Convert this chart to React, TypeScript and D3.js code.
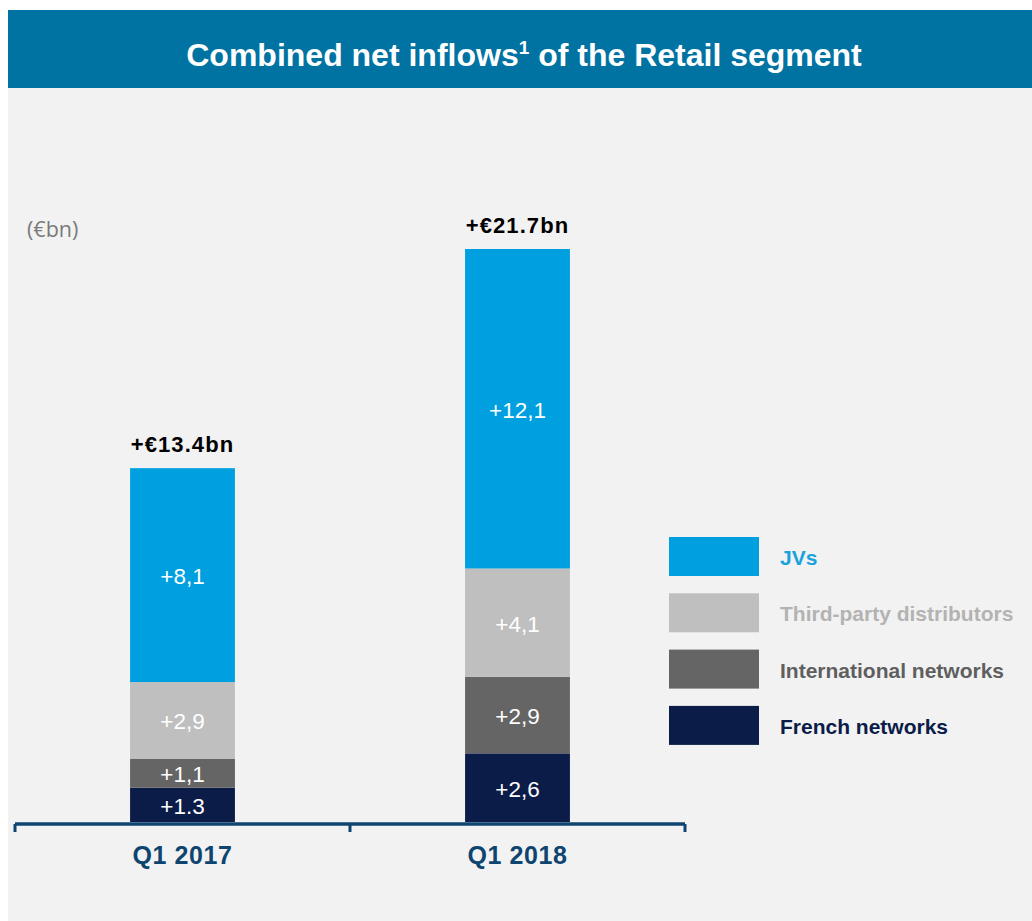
import React from 'react';
import * as d3 from 'd3';

const width = 1032;
const height = 921;

const periods = ['Q1 2017', 'Q1 2018'];
const seriesNames = ['French networks', 'International networks', 'Third-party distributors', 'JVs'];
const frenchNetworks = [1.3, 2.6];
const internationalNetworks = [1.1, 2.9];
const thirdParty = [2.9, 4.1];
const jvs = [8.1, 12.1];
const segmentLabels = [
  ['+1.3', '+2,6'],
  ['+1,1', '+2,9'],
  ['+2,9', '+4,1'],
  ['+8,1', '+12,1'],
];
const totalLabels = ['+€13.4bn', '+€21.7bn'];
const totals = [13.4, 21.7];

const colors = ['#0b1c48', '#656565', '#bfbfbf', '#00a0e0'];
const legendTextColors = ['#0b1c48', '#5f5f5f', '#b3b3b3', '#1aa2dc'];
const axisColor = '#0e4470';
const font = '"Liberation Sans", Arial, sans-serif';

const App = () => {
  const rows = periods.map((p, i) => ({
    period: p,
    'French networks': frenchNetworks[i],
    'International networks': internationalNetworks[i],
    'Third-party distributors': thirdParty[i],
    JVs: jvs[i],
  }));
  const stacked = d3.stack<any>().keys(seriesNames)(rows);

  const x = d3.scaleBand()
    .domain(periods)
    .range([15, 685])
    .paddingInner(0.687)
    .paddingOuter(0.3435);

  const y = d3.scaleLinear()
    .domain([0, 21.7])
    .range([822, 249]);

  const axisY = 824;
  const step = x.step();
  const boundaries = d3.range(periods.length + 1).map(i => 15 + i * step);

  // legend, top item is JVs
  const legendOrder = [3, 2, 1, 0];

  return (
    <svg width={width} height={height} style={{ position: 'absolute', left: 0, top: 0 }}>
      <rect x={0} y={0} width={width} height={height} fill="#ffffff" />
      <rect x={8} y={88} width={width - 8} height={height - 88} fill="#f2f2f2" />
      <rect x={8} y={10} width={width - 8} height={78} fill="#0073a2" />
      <text x={524} y={66} textAnchor="middle" fill="#ffffff" fontFamily={font} fontWeight="bold" fontSize={32}>
        Combined net inflows
        <tspan fontSize={19} dy={-12}>1</tspan>
        <tspan dy={12}> of the Retail segment</tspan>
      </text>

      <text x={27} y={237} fill="#7a7a7a" fontFamily='"Open Sans", sans-serif' fontSize={21.5}>(€bn)</text>

      {stacked.map((s, si) => (
        <g key={s.key}>
          {s.map((d, i) => {
            const x0 = x(periods[i]) as number;
            const top = y(d[1]);
            const bottom = y(d[0]);
            return (
              <g key={i}>
                <rect x={x0} y={top} width={x.bandwidth()} height={bottom - top} fill={colors[si]} />
                <text
                  x={x0 + x.bandwidth() / 2}
                  y={(top + bottom) / 2 + 9}
                  textAnchor="middle"
                  fill="#ffffff"
                  fontFamily={font}
                  fontSize={22.5}
                >
                  {segmentLabels[si][i]}
                </text>
              </g>
            );
          })}
        </g>
      ))}

      {periods.map((p, i) => (
        <text
          key={p}
          x={(x(p) as number) + x.bandwidth() / 2}
          y={y(totals[i]) - 16}
          textAnchor="middle"
          fill="#000000"
          fontFamily={font}
          fontWeight="bold"
          fontSize={22}
          letterSpacing={1.1}
        >
          {totalLabels[i]}
        </text>
      ))}

      <line x1={boundaries[0]} x2={boundaries[boundaries.length - 1]} y1={axisY} y2={axisY} stroke={axisColor} strokeWidth={3.5} />
      {boundaries.map((b, i) => (
        <line key={i} x1={b} x2={b} y1={axisY} y2={832} stroke={axisColor} strokeWidth={3} />
      ))}
      {periods.map(p => (
        <text
          key={p}
          x={(x(p) as number) + x.bandwidth() / 2}
          y={864}
          textAnchor="middle"
          fill={axisColor}
          fontFamily={font}
          fontWeight="bold"
          fontSize={25}
          letterSpacing={0.6}
        >
          {p}
        </text>
      ))}

      {legendOrder.map((si, k) => (
        <g key={si} transform={`translate(669,${537 + k * 56.3})`}>
          <rect x={0} y={0} width={90} height={39} fill={colors[si]} />
          <text x={111} y={28} fill={legendTextColors[si]} fontFamily={font} fontWeight="bold" fontSize={21}>
            {seriesNames[si]}
          </text>
        </g>
      ))}
    </svg>
  );
};

export default App;
